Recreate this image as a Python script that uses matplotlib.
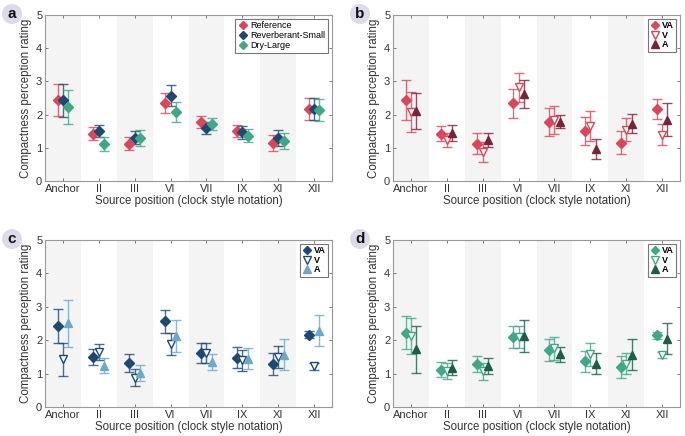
import numpy as np
import matplotlib
matplotlib.use("Agg")
import matplotlib.pyplot as plt
from matplotlib.lines import Line2D
from matplotlib.patches import Circle

plt.rcParams["font.family"] = ["Liberation Sans", "DejaVu Sans"]

positions = ["Anchor", "II", "III", "VI", "VII", "IX", "XI", "XII"]

# Panel a: rooms
a_ref = [2.45, 1.43, 1.12, 2.34, 1.78, 1.50, 1.15, 2.17]
a_ref_ci = [0.48, 0.20, 0.20, 0.30, 0.19, 0.18, 0.24, 0.33]
a_rs = [2.43, 1.51, 1.31, 2.57, 1.61, 1.47, 1.29, 2.18]
a_rs_ci = [0.49, 0.19, 0.21, 0.31, 0.18, 0.19, 0.24, 0.33]
a_dl = [2.23, 1.12, 1.29, 2.09, 1.71, 1.37, 1.20, 2.15]
a_dl_ci = [0.50, 0.22, 0.25, 0.30, 0.18, 0.21, 0.24, 0.33]

# Panel b: Reference room, modalities
b_va = [2.45, 1.43, 1.12, 2.34, 1.78, 1.50, 1.15, 2.17]
b_va_ci = [0.60, 0.23, 0.32, 0.44, 0.42, 0.42, 0.35, 0.31]
b_v = [2.08, 1.23, 0.87, 2.82, 1.83, 1.65, 1.55, 1.40]
b_v_ci = [0.59, 0.22, 0.31, 0.44, 0.42, 0.45, 0.36, 0.31]
b_a = [2.12, 1.45, 1.24, 2.62, 1.79, 0.96, 1.73, 1.85]
b_a_ci = [0.54, 0.24, 0.22, 0.43, 0.19, 0.30, 0.28, 0.50]

# Panel c: Reverberant-Small
c_va = [2.43, 1.51, 1.31, 2.57, 1.62, 1.48, 1.29, 2.17]
c_va_ci = [0.50, 0.24, 0.27, 0.34, 0.31, 0.31, 0.32, 0.11]
c_v = [1.43, 1.66, 0.88, 1.89, 1.62, 1.40, 1.50, 1.22]
c_v_ci = [0.49, 0.24, 0.25, 0.34, 0.31, 0.31, 0.33, 0.10]
c_a = [2.51, 1.24, 1.01, 2.13, 1.35, 1.45, 1.57, 2.29]
c_a_ci = [0.70, 0.22, 0.24, 0.47, 0.23, 0.32, 0.46, 0.47]

# Panel d: Dry-Large
d_va = [2.23, 1.12, 1.29, 2.10, 1.71, 1.37, 1.20, 2.15]
d_va_ci = [0.50, 0.23, 0.25, 0.34, 0.32, 0.32, 0.32, 0.10]
d_v = [2.13, 1.08, 1.07, 2.10, 1.76, 1.58, 1.30, 1.56]
d_v_ci = [0.53, 0.23, 0.25, 0.34, 0.35, 0.35, 0.32, 0.10]
d_a = [1.73, 1.18, 1.22, 2.12, 1.58, 1.30, 1.57, 2.05]
d_a_ci = [0.70, 0.22, 0.24, 0.48, 0.23, 0.31, 0.46, 0.46]

red = "#dc4658"
maroon = "#7b2238"
navy = "#1d4a74"
lightblue = "#6ea8c9"
green = "#3fa886"
darkgreen = "#1d5e47"

offsets = [-0.15, 0.0, 0.15]
x = np.arange(1, len(positions) + 1)

fig = plt.figure(figsize=(6.85, 4.36), dpi=100)
boxes = {
    "a": [45 / 685, 1 - 181 / 436, 287 / 685, 166 / 436],
    "b": [393 / 685, 1 - 181 / 436, 287 / 685, 166 / 436],
    "c": [45 / 685, 1 - 407 / 436, 287 / 685, 167 / 436],
    "d": [393 / 685, 1 - 407 / 436, 287 / 685, 167 / 436],
}


def draw_panel(letter, series, legend_small):
    ax = fig.add_axes(boxes[letter])
    for i in range(len(positions)):
        if i % 2 == 0:
            ax.axvspan(x[i] - 0.5, x[i] + 0.5, color="#f4f4f4", lw=0, zorder=0)
    handles = []
    for k, (vals, ci, color, marker, filled, label) in enumerate(series):
        face = color if filled else "white"
        ax.errorbar(x + offsets[k], vals, yerr=ci, fmt="none", ecolor=color,
                    elinewidth=1.0, capsize=3.5, capthick=1.0, alpha=0.8, zorder=2)
        ax.plot(x + offsets[k], vals, linestyle="none", marker=marker,
                markersize=5 if marker == "D" else 6, markerfacecolor=face,
                markeredgecolor=color, markeredgewidth=1.0, zorder=3)
        handles.append(Line2D([], [], linestyle="none", marker=marker,
                              markersize=4.5 if marker == "D" else 5.5,
                              markerfacecolor=face, markeredgecolor=color,
                              markeredgewidth=1.0, label=label))
    ax.set_xlim(0.5, len(positions) + 0.5)
    ax.set_ylim(0, 5)
    ax.set_xticks(x)
    ax.set_xticklabels(positions)
    ax.set_yticks(range(6))
    ax.tick_params(direction="in", top=True, right=True, length=2.5, width=0.6,
                   color="#666666", labelsize=8, labelcolor="#333333", pad=2)
    for s in ax.spines.values():
        s.set_color("#999999")
        s.set_linewidth(0.8)
    ax.set_xlabel("Source position (clock style notation)", fontsize=8.3,
                  color="#333333", labelpad=1)
    ax.set_ylabel("Compactness perception rating", fontsize=8.3, color="#333333",
                  labelpad=3)
    if legend_small:
        leg = ax.legend(handles=handles, loc="upper right",
                        handlelength=0.8, handletextpad=0.4, labelspacing=0.05,
                        borderpad=0.3, borderaxespad=0.4, fancybox=False,
                        prop={"size": 6.5, "weight": "bold"})
    else:
        leg = ax.legend(handles=handles, loc="upper right", fontsize=6.5,
                        handlelength=1.0, handletextpad=0.4, labelspacing=0.1,
                        borderpad=0.3, borderaxespad=0.4, fancybox=False)
    leg.get_frame().set_edgecolor("#777777")
    leg.get_frame().set_linewidth(0.8)
    leg.get_frame().set_alpha(1)
    # panel letter in a light circle
    left, bottom, w, h = boxes[letter]
    cx = left - 33 / 685
    cy = bottom + h + 1 / 436
    fig.patches.append(Circle((cx * 685, cy * 436), 10, transform=None,
                              facecolor="#dcdbec", edgecolor="none"))
    fig.text(cx, cy, letter, ha="center", va="center", fontsize=11,
             fontweight="bold", color="#111111")
    return ax


draw_panel("a", [
    (a_ref, a_ref_ci, red, "D", True, "Reference"),
    (a_rs, a_rs_ci, navy, "D", True, "Reverberant-Small"),
    (a_dl, a_dl_ci, green, "D", True, "Dry-Large"),
], False)
draw_panel("b", [
    (b_va, b_va_ci, red, "D", True, "VA"),
    (b_v, b_v_ci, red, "v", False, "V"),
    (b_a, b_a_ci, maroon, "^", True, "A"),
], True)
draw_panel("c", [
    (c_va, c_va_ci, navy, "D", True, "VA"),
    (c_v, c_v_ci, navy, "v", False, "V"),
    (c_a, c_a_ci, lightblue, "^", True, "A"),
], True)
draw_panel("d", [
    (d_va, d_va_ci, green, "D", True, "VA"),
    (d_v, d_v_ci, green, "v", False, "V"),
    (d_a, d_a_ci, darkgreen, "^", True, "A"),
], True)

fig.savefig("out.png", dpi=100)
